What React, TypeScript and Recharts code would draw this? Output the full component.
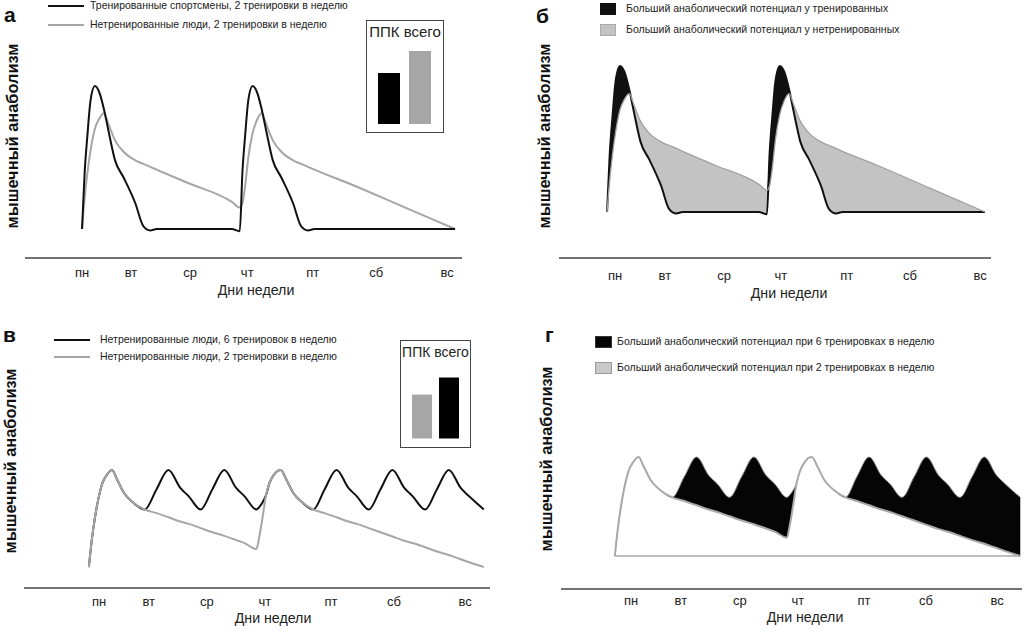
import React from "react";
import { ComposedChart, Line, Area, XAxis, YAxis, ReferenceLine, BarChart, Bar, Cell } from "recharts";

const FONT = "'Liberation Sans', Arial, Helvetica, sans-serif";

const dayNames = ["пн", "вт", "ср", "чт", "пт", "сб", "вс"];

// а, б: тренированные / нетренированные, 2 тренировки в неделю (время в днях)
const daysAB = [0, 0.05, 0.1, 0.16, 0.24, 0.32, 0.41, 0.5, 0.62, 0.78, 1.0, 1.15, 1.28, 1.4, 2.0, 2.81, 2.96, 3.01, 3.06, 3.12, 3.2, 3.28, 3.37, 3.46, 3.58, 3.74, 3.96, 4.11, 4.24, 4.36, 5.0, 6.0, 7.0];
const trainedAB = [0, 40, 65, 90, 100, 96, 84, 68, 48, 36, 18, 2, -1, 0, 0, 0, -1.5, 40, 65, 90, 100, 96, 84, 68, 48, 36, 18, 2, -1, 0, 0, 0, 0];
const untrainedAB = [0, 22, 39, 55, 70, 77, 81, 73, 62, 54, 48, 45.5, 43.5, 41.5, 32, 19, 15, 18, 30, 50, 67, 76, 81, 73, 62, 54, 48, 45.5, 43.5, 41.5, 32, 16, 0];

// в, г: нетренированные, 6 и 2 тренировки в неделю
const daysCD = [0, 0.05, 0.1, 0.16, 0.24, 0.32, 0.41, 0.5, 0.62, 0.78, 0.99, 1.2, 1.41, 1.62, 1.77, 1.98, 2.19, 2.4, 2.61, 2.76, 2.97, 3.02, 3.08, 3.14, 3.2, 3.28, 3.4, 3.5, 3.62, 3.78, 3.98, 4.18, 4.39, 4.6, 4.75, 4.96, 5.17, 5.38, 5.59, 5.74, 5.96, 6.17, 6.38, 6.59, 6.74, 7.0];
const sixPerWeek = [0, 22, 39, 55, 70, 77, 81, 73, 62, 54, 48, 65, 81, 66, 59, 48, 65, 81, 66, 59, 48, 50, 54, 60, 70, 77, 81, 73, 62, 54, 48, 65, 81, 66, 59, 48, 65, 81, 66, 59, 48, 65, 81, 66, 59, 48];
const twoPerWeek = [0, 22, 39, 55, 70, 77, 81, 73, 62, 54, 48, 45, 41.5, 38, 36, 32.5, 29, 26, 22.5, 20, 15, 25, 42, 60, 70, 77, 81, 73, 62, 54, 48, 45, 41.5, 38, 36, 32.5, 29, 25.5, 22, 20, 16.5, 13, 10, 6.5, 4, 0];

// положения подписей дней на оси (в днях)
const ticksA = [0, 0.92, 2.03, 3.1, 4.33, 5.52, 6.85];
const ticksB = [0.15, 1.07, 2.17, 3.22, 4.44, 5.61, 6.91];
const ticksC = [0.18, 1.06, 2.09, 3.12, 4.29, 5.41, 6.67];
const ticksD = [0.28, 1.14, 2.16, 3.16, 4.3, 5.37, 6.6];

// ППК всего
const aucA = [70, 100]; // тренированные, нетренированные
const aucC = [72, 100]; // 2 и 6 тренировок

const dataAB = daysAB.map((t, i) => ({
  t,
  trained: trainedAB[i],
  untrained: untrainedAB[i],
  moreTrained: [untrainedAB[i], Math.max(untrainedAB[i], trainedAB[i])],
  moreUntrained: [trainedAB[i], Math.max(untrainedAB[i], trainedAB[i])],
}));

const dataCD = daysCD.map((t, i) => ({
  t,
  six: sixPerWeek[i],
  two: twoPerWeek[i],
  moreSix: [twoPerWeek[i], Math.max(twoPerWeek[i], sixPerWeek[i])],
}));

const axisLine = { stroke: "#444", strokeWidth: 1.5 };

function Panel({ left, top, width, height, margin, axisH, tickGap, xDomain, yDomain, ticks, data, children }: any) {
  return (
    <div style={{ position: "absolute", left, top }}>
      <ComposedChart width={width} height={height} data={data} margin={margin}>
        <XAxis
          type="number" dataKey="t" domain={xDomain} ticks={ticks} interval={0} allowDataOverflow
          tickFormatter={(_v: number, i: number) => dayNames[i]}
          tickLine={false} tickSize={0} tickMargin={tickGap} height={axisH}
          axisLine={axisLine} tick={{ fill: "#222", fontSize: 13 }}
        />
        <YAxis type="number" domain={yDomain} allowDataOverflow width={0} tick={false} tickLine={false} axisLine={axisLine} />
        {children}
      </ComposedChart>
    </div>
  );
}

function Inset({ left, top, width, height, titleSize, titleTop, values, colors, chartH, margin, barSize }: any) {
  const rows = values.map((v: number, i: number) => ({ name: String(i), v }));
  return (
    <div style={{ position: "absolute", left, top, width, height, border: "1.5px solid #444", boxSizing: "border-box", background: "#fff" }}>
      <div style={{ position: "absolute", left: 0, right: 0, top: titleTop, textAlign: "center", fontSize: titleSize, lineHeight: "17px", color: "#222" }}>ППК всего</div>
      <div style={{ position: "absolute", left: 0, top: 0 }}>
        <BarChart width={width - 3} height={chartH} data={rows} margin={margin}>
          <XAxis dataKey="name" hide />
          <YAxis hide domain={[0, 100]} />
          <Bar dataKey="v" barSize={barSize} isAnimationActive={false}>
            {rows.map((_r: any, i: number) => <Cell key={i} fill={colors[i]} />)}
          </Bar>
        </BarChart>
      </div>
    </div>
  );
}

const abs = (x: number, y: number, extra: any = {}) => ({ position: "absolute" as const, left: x, top: y, ...extra });

function LegendLine({ x, y, color, tx, text }: any) {
  return (
    <>
      <div style={abs(x, y - 1, { width: 36, height: 2.2, background: color })} />
      <div style={abs(tx, y - 7, { fontSize: 10.5, lineHeight: "13px", color: "#222", whiteSpace: "nowrap" })}>{text}</div>
    </>
  );
}

function LegendBox({ x, y, w, h, color, border, tx, text }: any) {
  return (
    <>
      <div style={abs(x, y, { width: w, height: h, background: color, border: `1px solid ${border}`, boxSizing: "border-box" })} />
      <div style={abs(tx, y + h / 2 - 7, { fontSize: 10.5, lineHeight: "13px", color: "#222", whiteSpace: "nowrap" })}>{text}</div>
    </>
  );
}

function YTitle({ cx, cy }: any) {
  return (
    <div style={abs(cx, cy, { transform: "translate(-50%, -50%) rotate(-90deg)", fontSize: 16.4, fontWeight: 700, whiteSpace: "nowrap", color: "#111" })}>
      мышечный анаболизм
    </div>
  );
}

function XTitle({ cx, cy }: any) {
  return (
    <div style={abs(cx, cy, { transform: "translate(-50%, -50%)", fontSize: 14.2, whiteSpace: "nowrap", color: "#222" })}>Дни недели</div>
  );
}

function Letter({ x, y, ch }: any) {
  return <div style={abs(x, y, { fontSize: 21, lineHeight: "21px", fontWeight: 700, color: "#111" })}>{ch}</div>;
}

export default function App() {
  return (
    <div style={{ position: "absolute", left: 0, top: 0, width: 1024, height: 634, background: "#fff", fontFamily: FONT, overflow: "hidden" }}>
      {/* а */}
      <Panel left={0} top={0} width={512} height={300} margin={{ top: 28, right: 50, left: 25, bottom: 0 }} axisH={42} tickGap={10}
        xDomain={[-1.07, 7.13]} yDomain={[-20.3, 140.6]} ticks={ticksA} data={dataAB}>
        <Line dataKey="untrained" type="monotone" stroke="#a6a6a6" strokeWidth={2} dot={false} isAnimationActive={false} />
        <Line dataKey="trained" type="monotone" stroke="#111" strokeWidth={2} dot={false} isAnimationActive={false} />
      </Panel>
      <Letter x={4} y={4} ch="а" />
      <LegendLine x={48} y={6} color="#111" tx={90} text="Тренированные спортсмены, 2 тренировки в неделю" />
      <LegendLine x={48} y={25} color="#a6a6a6" tx={90} text="Нетренированные люди, 2 тренировки в неделю" />
      <YTitle cx={12} cy={136} />
      <XTitle cx={256} cy={290} />
      <Inset left={366} top={20} width={78} height={113} titleSize={15} titleTop={2} values={aucA} colors={["#000", "#a6a6a6"]}
        chartH={103} margin={{ top: 30, right: 7, left: 6, bottom: 0 }} barSize={22} />

      {/* б */}
      <Panel left={512} top={0} width={512} height={300} margin={{ top: 25, right: 33, left: 47, bottom: 0 }} axisH={42} tickGap={13}
        xDomain={[-0.89, 7.11]} yDomain={[-31.5, 128]} ticks={ticksB} data={dataAB}>
        <Area dataKey="moreUntrained" type="monotone" stroke="none" fill="#c3c3c3" fillOpacity={1} isAnimationActive={false} />
        <Area dataKey="moreTrained" type="monotone" stroke="none" fill="#111" fillOpacity={1} isAnimationActive={false} />
        <Line dataKey="trained" type="monotone" stroke="#111" strokeWidth={2} dot={false} isAnimationActive={false} />
        <Line dataKey="untrained" type="monotone" stroke="#a0a0a0" strokeWidth={1.3} dot={false} isAnimationActive={false} />
      </Panel>
      <Letter x={536} y={5} ch="б" />
      <LegendBox x={600} y={3} w={16} h={12} color="#111" border="#111" tx={626} text="Больший анаболический потенциал у тренированных" />
      <LegendBox x={600} y={24} w={16} h={12} color="#c3c3c3" border="#aaa" tx={626} text="Больший анаболический потенциал у нетренированных" />
      <YTitle cx={544} cy={136} />
      <XTitle cx={789} cy={293} />

      {/* в */}
      <Panel left={0} top={320} width={512} height={314} margin={{ top: 28, right: 22, left: 24, bottom: 0 }} axisH={46} tickGap={9}
        xDomain={[-1.15, 7.11]} yDomain={[-17.5, 182.8]} ticks={ticksC} data={dataCD}>
        <Line dataKey="six" type="monotone" stroke="#111" strokeWidth={2} dot={false} isAnimationActive={false} />
        <Line dataKey="two" type="monotone" stroke="#a6a6a6" strokeWidth={2} dot={false} isAnimationActive={false} />
      </Panel>
      <Letter x={3} y={324} ch="в" />
      <LegendLine x={54} y={340} color="#111" tx={100} text="Нетренированные люди, 6 тренировок в неделю" />
      <LegendLine x={54} y={357} color="#a6a6a6" tx={100} text="Нетренированные люди, 2 тренировки в неделю" />
      <YTitle cx={10} cy={461} />
      <XTitle cx={273} cy={618} />
      <Inset left={400} top={340} width={71} height={108} titleSize={14} titleTop={3} values={aucC} colors={["#a6a6a6", "#000"]}
        chartH={97.5} margin={{ top: 36.5, right: 7, left: 7, bottom: 0 }} barSize={20} />

      {/* г */}
      <Panel left={512} top={320} width={512} height={314} margin={{ top: 27, right: 2, left: 49, bottom: 0 }} axisH={45} tickGap={7}
        xDomain={[-0.93, 7.03]} yDomain={[-27, 171]} ticks={ticksD} data={dataCD}>
        <Area dataKey="moreSix" type="monotone" stroke="none" fill="#050505" fillOpacity={1} isAnimationActive={false} />
        <ReferenceLine segment={[{ x: 0, y: 0 }, { x: 7, y: 0 }]} stroke="#a9a9a9" strokeWidth={1.5} ifOverflow="visible" />
        <Line dataKey="six" type="monotone" stroke="#8a8a8a" strokeWidth={1} dot={false} isAnimationActive={false} />
        <Line dataKey="two" type="monotone" stroke="#a9a9a9" strokeWidth={2} dot={false} isAnimationActive={false} />
      </Panel>
      <Letter x={545} y={324} ch="г" />
      <LegendBox x={595} y={336} w={17} h={12} color="#050505" border="#333" tx={617} text="Больший анаболический потенциал при 6 тренировках в неделю" />
      <LegendBox x={595} y={362} w={17} h={12} color="#c8c8c8" border="#999" tx={617} text="Больший анаболический потенциал при 2 тренировках в неделю" />
      <YTitle cx={546} cy={459} />
      <XTitle cx={805} cy={617} />
    </div>
  );
}
